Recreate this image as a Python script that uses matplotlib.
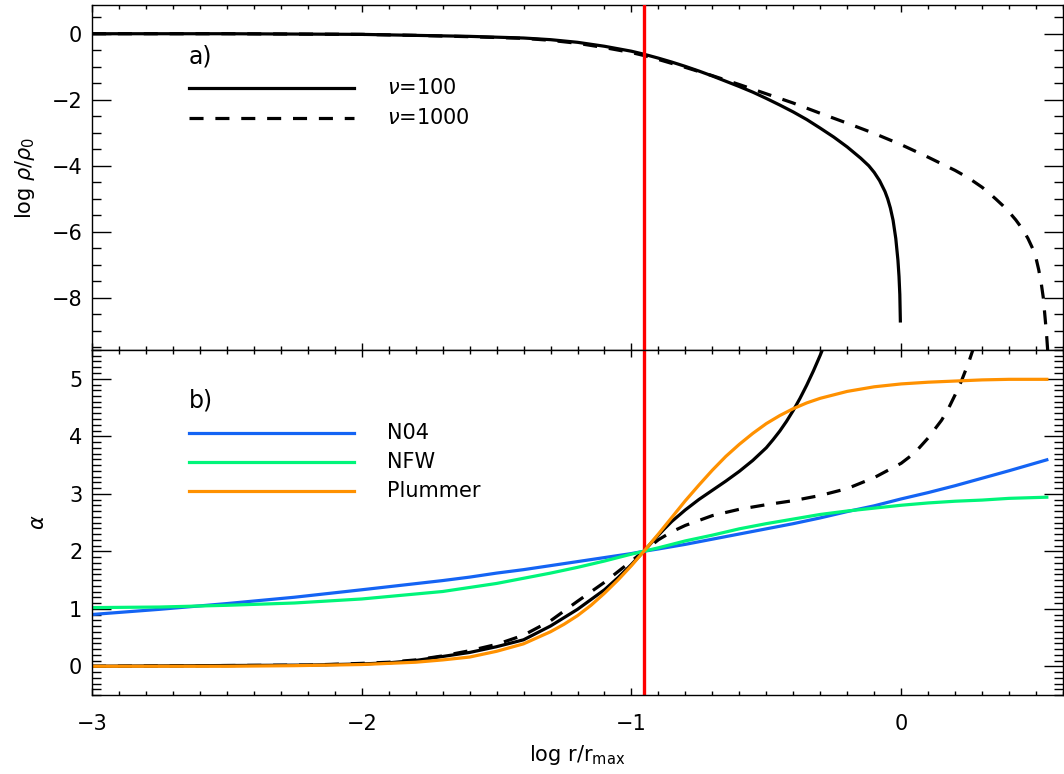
import matplotlib
matplotlib.use("Agg")
import matplotlib.pyplot as plt
from matplotlib.ticker import MultipleLocator

plt.rcParams['font.family'] = ['DejaVu Sans']
plt.rcParams['font.size'] = 15

# radius where every profile has slope alpha = 2
x_cross = -0.954

# a) log density of the nu=100 and nu=1000 models
xa_100 = [-3.0, -2.5, -2.0, -1.8, -1.6, -1.4, -1.3, -1.2, -1.1, -1.0, -0.954,
          -0.9, -0.85, -0.8, -0.75, -0.7, -0.65, -0.6, -0.55, -0.5, -0.45, -0.4,
          -0.35, -0.3, -0.25, -0.2, -0.15, -0.12, -0.1, -0.08, -0.06, -0.05, -0.04,
          -0.03, -0.02, -0.012, -0.008, -0.005, -0.003]
rho_100 = [0.0, 0.0, -0.02, -0.05, -0.08, -0.13, -0.18, -0.26, -0.38, -0.53, -0.62,
           -0.74, -0.86, -0.99, -1.13, -1.28, -1.44, -1.6, -1.77, -1.96, -2.16, -2.37,
           -2.6, -2.86, -3.13, -3.43, -3.77, -4.0, -4.2, -4.45, -4.78, -5.0, -5.28,
           -5.65, -6.2, -6.86, -7.35, -7.9, -8.7]

xa_1000 = [-3.0, -2.5, -2.0, -1.8, -1.6, -1.4, -1.3, -1.2, -1.1, -1.0, -0.954,
           -0.9, -0.8, -0.7, -0.6, -0.5, -0.4, -0.3, -0.2, -0.1, 0.0, 0.1, 0.2,
           0.25, 0.3, 0.325, 0.35, 0.375, 0.4, 0.425, 0.45, 0.47, 0.49, 0.5, 0.51,
           0.52, 0.527, 0.533, 0.539, 0.545]
rho_1000 = [0.0, 0.0, -0.02, -0.05, -0.09, -0.14, -0.2, -0.29, -0.42, -0.57, -0.66,
            -0.78, -1.02, -1.27, -1.54, -1.82, -2.1, -2.41, -2.71, -3.02, -3.36,
            -3.74, -4.14, -4.37, -4.65, -4.82, -5.0, -5.19, -5.4, -5.64, -5.92,
            -6.2, -6.55, -6.8, -7.15, -7.6, -8.0, -8.55, -9.1, -9.8]

# b) logarithmic slope alpha
xb_100 = [-3.0, -2.6, -2.2, -2.0, -1.9, -1.8, -1.7, -1.6, -1.5, -1.4, -1.3, -1.2,
          -1.1, -1.05, -1.0, -0.954, -0.92, -0.88, -0.85, -0.8, -0.75, -0.7, -0.65,
          -0.6, -0.55, -0.5, -0.475, -0.45, -0.425, -0.4, -0.375, -0.35, -0.325,
          -0.3, -0.275]
alpha_100 = [0.00, 0.01, 0.02, 0.04, 0.06, 0.10, 0.17, 0.24, 0.34, 0.46, 0.70, 0.99,
             1.33, 1.54, 1.77, 2.00, 2.18, 2.38, 2.52, 2.72, 2.90, 3.06, 3.22,
             3.39, 3.58, 3.80, 3.94, 4.09, 4.26, 4.45, 4.66, 4.89, 5.14,
             5.41, 5.70]

xb_1000 = [-3.0, -2.6, -2.2, -2.0, -1.9, -1.8, -1.7, -1.6, -1.5, -1.4, -1.3, -1.2,
           -1.1, -1.0, -0.954, -0.9, -0.85, -0.8, -0.7, -0.6, -0.5, -0.4, -0.3,
           -0.2, -0.1, 0.0, 0.05, 0.1, 0.15, 0.175, 0.2, 0.225, 0.25, 0.28]
alpha_1000 = [0.00, 0.01, 0.02, 0.05, 0.07, 0.11, 0.18, 0.27, 0.38, 0.54, 0.79, 1.13,
              1.46, 1.83, 2.00, 2.20, 2.34, 2.45, 2.62, 2.73, 2.81, 2.88, 2.97,
              3.09, 3.28, 3.53, 3.71, 3.97, 4.28, 4.48, 4.72, 4.98, 5.28, 5.70]

x_ref = [-3.0, -2.75, -2.5, -2.25, -2.0, -1.7, -1.6, -1.5, -1.4, -1.3, -1.2, -1.1,
         -1.0, -0.954, -0.9, -0.8, -0.7, -0.6, -0.5, -0.4, -0.3, -0.2, -0.1, 0.0,
         0.1, 0.2, 0.3, 0.4, 0.54]
alpha_n04 = [0.90, 0.99, 1.09, 1.20, 1.33, 1.49, 1.55, 1.62, 1.68, 1.75, 1.82, 1.89,
             1.96, 2.00, 2.04, 2.12, 2.21, 2.30, 2.39, 2.48, 2.58, 2.69, 2.79, 2.91,
             3.02, 3.14, 3.27, 3.40, 3.59]
alpha_nfw = [1.02, 1.03, 1.06, 1.10, 1.17, 1.30, 1.37, 1.44, 1.53, 1.62, 1.72, 1.83,
             1.95, 2.00, 2.06, 2.18, 2.28, 2.39, 2.48, 2.56, 2.64, 2.70, 2.75, 2.80,
             2.84, 2.87, 2.89, 2.92, 2.94]

x_plum = [-3.0, -2.5, -2.25, -2.0, -1.8, -1.7, -1.6, -1.5, -1.4, -1.3, -1.25, -1.2,
          -1.15, -1.1, -1.05, -1.0, -0.954, -0.9, -0.85, -0.8, -0.75, -0.7, -0.65,
          -0.6, -0.55, -0.5, -0.45, -0.4, -0.35, -0.3, -0.25, -0.2, -0.15, -0.1,
          0.0, 0.1, 0.2, 0.3, 0.4, 0.54]
alpha_plum = [0.00, 0.00, 0.01, 0.03, 0.07, 0.11, 0.16, 0.26, 0.39, 0.60, 0.73, 0.88,
              1.06, 1.27, 1.50, 1.75, 2.00, 2.30, 2.59, 2.88, 3.15, 3.41, 3.65,
              3.86, 4.05, 4.22, 4.36, 4.48, 4.58, 4.66, 4.72, 4.78, 4.82, 4.86,
              4.91, 4.94, 4.96, 4.98, 4.99, 4.99]

labels_a = [r'$\nu$=100', r'$\nu$=1000']
labels_b = ['N04', 'NFW', 'Plummer']
colors_b = ['#1464f4', '#00f57a', '#ff9100']
lw = 2.3
dash = (4.4, 3.7)   # in units of the line width

W, H = 1064, 774
fig = plt.figure(figsize=(W / 100, H / 100), dpi=100)
ax_a = fig.add_axes([92 / W, 1 - 350 / H, 971 / W, 345 / H])
ax_b = fig.add_axes([92 / W, 1 - 695 / H, 971 / W, 345 / H])

# top panel: density
ax_a.plot(xa_100, rho_100, color='black', lw=lw)
ax_a.plot(xa_1000, rho_1000, color='black', lw=lw, dashes=dash)
ax_a.axvline(x_cross, color='#ff0000', lw=2.4, zorder=3)
ax_a.set_ylim(-9.58, 0.87)
ax_a.set_ylabel(r'log $\rho/\rho_0$')
ax_a.yaxis.set_label_coords(-0.057, 0.5)

# bottom panel: slope
ax_b.axvline(x_cross, color='#ff0000', lw=2.4, zorder=1.5)
ax_b.plot(xb_100, alpha_100, color='black', lw=lw)
ax_b.plot(xb_1000, alpha_1000, color='black', lw=lw, dashes=dash)
ax_b.plot(x_ref, alpha_n04, color=colors_b[0], lw=lw)
ax_b.plot(x_ref, alpha_nfw, color=colors_b[1], lw=lw)
ax_b.plot(x_plum, alpha_plum, color=colors_b[2], lw=lw)
ax_b.set_ylim(-0.5, 5.5)
ax_b.set_ylabel(r'$\alpha$')
ax_b.yaxis.set_label_coords(-0.045, 0.5)
ax_b.set_xlabel(r'log r/r$_{\rm max}$', labelpad=6)

for ax in (ax_a, ax_b):
    ax.set_xlim(-3, 0.6)
    ax.xaxis.set_major_locator(MultipleLocator(1))
    ax.xaxis.set_minor_locator(MultipleLocator(0.1))
    for s in ax.spines.values():
        s.set_linewidth(1.0)
    ax.tick_params(which='both', direction='in', top=True, right=True, width=1.0)
    ax.tick_params(axis='y', which='major', length=13.5, pad=7)
    ax.tick_params(axis='y', which='minor', length=6.5)
    ax.tick_params(axis='x', which='major', length=5, pad=14)
    ax.tick_params(axis='x', which='minor', length=3)

ax_a.yaxis.set_major_locator(MultipleLocator(2))
ax_a.yaxis.set_minor_locator(MultipleLocator(0.5))
ax_a.tick_params(axis='x', labelbottom=False)
ax_b.yaxis.set_major_locator(MultipleLocator(1))
ax_b.yaxis.set_minor_locator(MultipleLocator(0.1))

# hand-placed keys, as in the original plotting routine
x0, x1, xt = 0.0999, 0.2698, 0.3038
ax_a.text(x0, 0.85, 'a)', transform=ax_a.transAxes, fontsize=17, va='center')
for yk, lab, style in zip([0.759, 0.672], labels_a, [None, dash]):
    kw = {'dashes': style} if style else {}
    ax_a.plot([x0, x1], [yk, yk], transform=ax_a.transAxes, color='black', lw=lw, **kw)
    ax_a.text(xt, yk, lab, transform=ax_a.transAxes, va='center')

ax_b.text(x0, 0.855, 'b)', transform=ax_b.transAxes, fontsize=17, va='center')
for yk, lab, c in zip([0.758, 0.674, 0.592], labels_b, colors_b):
    ax_b.plot([x0, x1], [yk, yk], transform=ax_b.transAxes, color=c, lw=lw)
    ax_b.text(xt, yk, lab, transform=ax_b.transAxes, va='center')

fig.savefig('out.png', dpi=100)
